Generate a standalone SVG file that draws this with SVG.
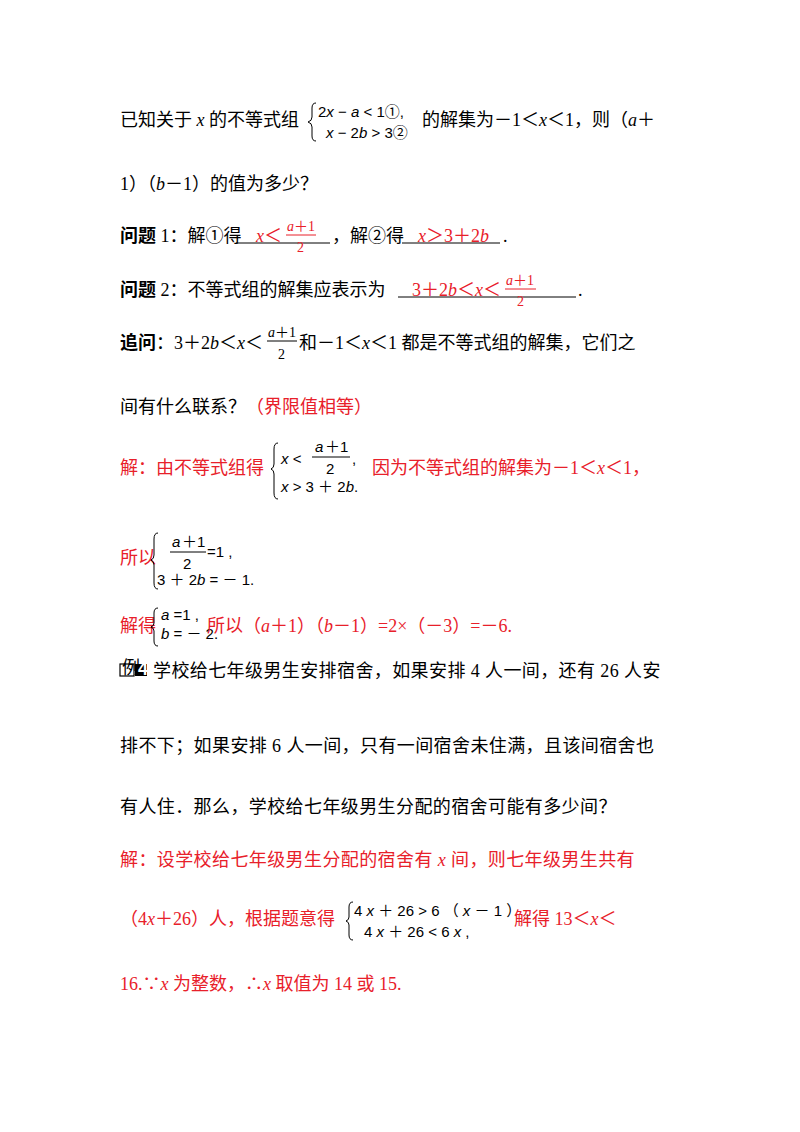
<svg xmlns="http://www.w3.org/2000/svg" width="800" height="1132" viewBox="0 0 800 1132">
<style>
text{font-family:"Liberation Serif","Noto Sans CJK SC",serif;font-size:18px;fill:#000}
.r{fill:#e8202a}
.s{font-size:15px;font-family:"Liberation Sans","Noto Sans CJK SC",sans-serif}
.f{font-size:14px}
.b{font-weight:bold;font-family:"Noto Sans CJK SC",sans-serif}
.i{font-style:italic}
.w{letter-spacing:0.4px}
.br{fill:none;stroke:#000;stroke-width:1}
.ul{stroke:#000;stroke-width:1}
.ur{stroke:#e8202a;stroke-width:1}
</style>
<rect width="800" height="1132" fill="#fff"/>
<g id="l1">
<text x="120" y="126">已知关于 <tspan class="i">x</tspan> 的不等式组</text>
<path class="br" d="M316,103 q-4,0 -4,5 v9 q0,4 -4,5 q4,1 4,5 v9 q0,5 4,5"/>
<text class="s" x="318" y="117">2<tspan class="i">x</tspan> − <tspan class="i">a</tspan> &lt; 1①,</text>
<text class="s" x="326" y="138"><tspan class="i">x</tspan> − 2<tspan class="i">b</tspan> &gt; 3②</text>
<text x="422" y="126">的解集为－1＜<tspan class="i">x</tspan>＜1，则（<tspan class="i">a</tspan>＋</text>
</g>
<g id="l2"><text x="120" y="190">1）（<tspan class="i">b</tspan>－1）的值为多少？</text></g>
<g id="l3">
<text x="120" y="242"><tspan class="b">问题</tspan> 1：解①得</text>
<line class="ul" x1="236" y1="243" x2="330" y2="243"/>
<text class="r" x="256" y="242"><tspan class="i">x</tspan>＜</text>
<text class="r f" x="287" y="231"><tspan class="i">a</tspan>＋1</text>
<line class="ur" x1="286" y1="235" x2="316" y2="235"/>
<text class="r f" x="297" y="252">2</text>
<text x="332" y="242">，解②得</text>
<line class="ul" x1="402" y1="243" x2="500" y2="243"/>
<text class="r" x="418" y="242"><tspan class="i">x</tspan>＞3＋2<tspan class="i">b</tspan></text>
<text x="503" y="242">.</text>
</g>
<g id="l4">
<text x="120" y="296"><tspan class="b">问题</tspan> 2：不等式组的解集应表示为</text>
<line class="ul" x1="398" y1="297" x2="576" y2="297"/>
<text class="r" x="412" y="296">3＋2<tspan class="i">b</tspan>＜<tspan class="i">x</tspan>＜</text>
<text class="r f" x="506" y="285"><tspan class="i">a</tspan>＋1</text>
<line class="ur" x1="505" y1="289" x2="536" y2="289"/>
<text class="r f" x="517" y="306">2</text>
<text x="578" y="296">.</text>
</g>
<g id="l5">
<text x="120" y="349"><tspan class="b">追问</tspan>：3＋2<tspan class="i">b</tspan>＜<tspan class="i">x</tspan>＜</text>
<text class="f" x="268" y="337"><tspan class="i">a</tspan>＋1</text>
<line class="ul" x1="267" y1="341" x2="297" y2="341"/>
<text class="f" x="278" y="359">2</text>
<text x="299" y="349">和－1＜<tspan class="i">x</tspan>＜1 都是不等式组的解集，它们之</text>
</g>
<g id="l6"><text x="120" y="413">间有什么联系？<tspan class="r">（界限值相等）</tspan></text></g>
<g id="l7">
<text class="r" x="120" y="474">解：由不等式组得</text>
<path class="br" d="M278,443 q-4,0 -4,6 v15 q0,4 -3,5 q3,1 3,5 v19 q0,6 4,6"/>
<text class="s" x="281" y="464"><tspan class="i">x</tspan> &lt;</text>
<text class="s i" x="315" y="452">a</text><text class="s" x="325" y="452">＋1</text>
<line class="ul" x1="312" y1="457" x2="350" y2="457"/>
<text class="s" x="326" y="474">2</text>
<text class="s" x="352" y="464">,</text>
<text class="s" x="281" y="492"><tspan class="i">x</tspan> &gt; 3 ＋ 2<tspan class="i">b</tspan>.</text>
<text class="r" x="372" y="474">因为不等式组的解集为－1＜<tspan class="i">x</tspan>＜1，</text>
</g>
<g id="l8">
<text class="r" x="120" y="564">所以</text>
<path class="br" d="M158,533 q-4,0 -4,6 v16 q0,4 -3,5 q3,1 3,5 v18 q0,6 4,6"/>
<text class="s i" x="172" y="547">a</text><text class="s" x="182" y="547">＋1</text>
<line class="ul" x1="170" y1="552" x2="206" y2="552"/>
<text class="s" x="183" y="569">2</text>
<text class="s" x="207" y="557">=1 ,</text>
<text class="s" x="157" y="585">3 ＋ 2<tspan class="i">b</tspan> = － 1.</text>
</g>
<g id="l9">
<text class="r" x="120" y="632">解得</text>
<path class="br" d="M158,608 q-4,0 -4,5 v10 q0,3 -3,4 q3,1 3,4 v10 q0,5 4,5"/>
<text class="s" x="161" y="620" font-size="14"><tspan class="i">a</tspan> =1 ,</text>
<text class="s" x="161" y="639" font-size="14"><tspan class="i">b</tspan> = － 2.</text>
<text class="r" x="207" y="632">所以（<tspan class="i">a</tspan>＋1）（<tspan class="i">b</tspan>－1）=2×（－3）=－6.</text>
</g>
<g id="l10">
<rect x="120" y="664" width="14" height="12" fill="none" stroke="#000" stroke-width="1.2"/>
<text x="122" y="674" font-size="9" style="font-family:'Noto Sans CJK SC',sans-serif">例</text>
<rect x="135" y="664" width="12" height="12" fill="#000"/>
<text x="138" y="674.5" font-size="10" font-weight="bold" style="fill:#fff;font-family:'Liberation Sans',sans-serif">4</text>
<text class="w" x="153" y="677">学校给七年级男生安排宿舍，如果安排 4 人一间，还有 26 人安</text>
</g>
<g id="l11"><text class="w" x="120" y="752">排不下；如果安排 6 人一间，只有一间宿舍未住满，且该间宿舍也</text></g>
<g id="l12"><text class="w" x="120" y="813">有人住．那么，学校给七年级男生分配的宿舍可能有多少间？</text></g>
<g id="l13"><text class="r w" x="120" y="866">解：设学校给七年级男生分配的宿舍有 <tspan class="i">x</tspan> 间，则七年级男生共有</text></g>
<g id="l14">
<text class="r" x="120" y="925">（4<tspan class="i">x</tspan>＋26）人，根据题意得</text>
<path class="br" d="M353,902 q-4,0 -4,5 v10 q0,3 -3,4 q3,1 3,4 v10 q0,5 4,5"/>
<text class="s" x="354" y="916" font-size="13">4 <tspan class="i">x</tspan> ＋ 26 &gt; 6 （ <tspan class="i">x</tspan> － 1 ） ,</text>
<text class="s" x="364" y="937" font-size="13">4 <tspan class="i">x</tspan> ＋ 26 &lt; 6 <tspan class="i">x</tspan> ,</text>
<text class="r" x="514" y="925">解得 13＜<tspan class="i">x</tspan>＜</text>
</g>
<g id="l15"><text class="r" x="120" y="990">16.∵<tspan class="i">x</tspan> 为整数，∴<tspan class="i">x</tspan> 取值为 14 或 15.</text></g>
</svg>
